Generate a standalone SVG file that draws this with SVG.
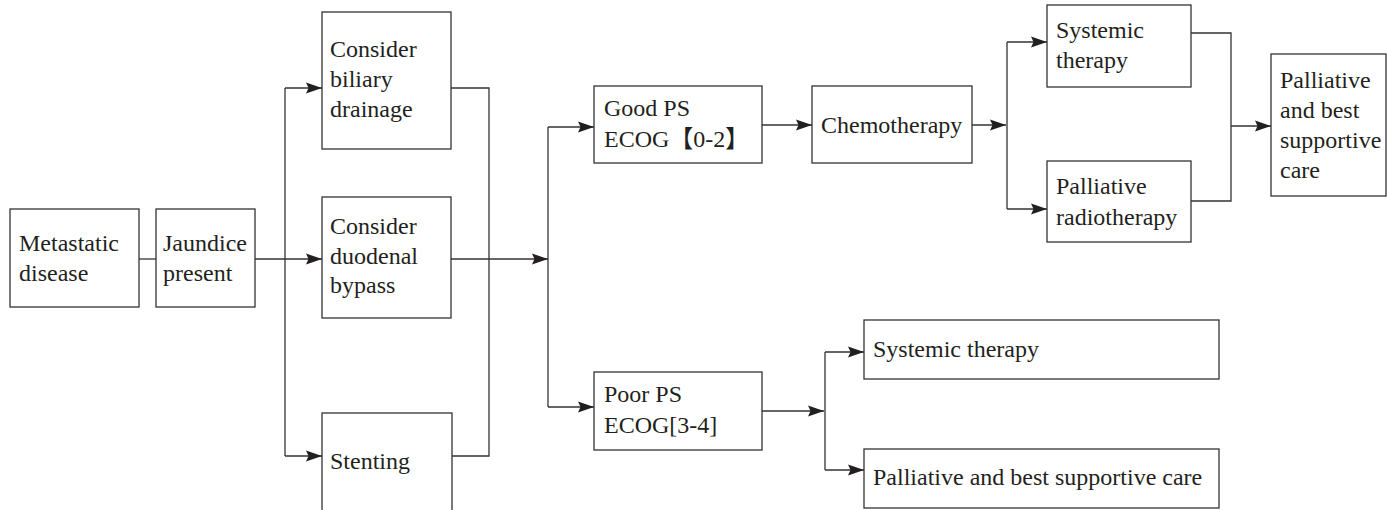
<svg xmlns="http://www.w3.org/2000/svg" width="1387" height="510" viewBox="0 0 1387 510">
<defs>
<marker id="arr" markerWidth="16" markerHeight="12" refX="16" refY="6" orient="auto" markerUnits="userSpaceOnUse" overflow="visible">
<path d="M0,0.5 L16,6 L0,11.5 L2.5,6 Z" fill="#231f20"/>
</marker>
<style>
.box{fill:#fff;stroke:#333;stroke-width:1.3}
.t{font-family:'Liberation Serif','Times New Roman',serif;font-size:24px;fill:#231f20}
.cjk{font-family:'Noto Sans CJK SC',sans-serif}
.c{fill:none;stroke:#333;stroke-width:1.3}
.a{fill:none;stroke:#333;stroke-width:1.3;marker-end:url(#arr)}
</style>
</defs>
<rect width="1387" height="510" fill="#fff"/>
<g id="connectors">
<path class="c" d="M139,259 H156"/>
<path class="a" d="M255,259 H322"/>
<path class="c" d="M285,88 V456"/>
<path class="a" d="M285,88 H322"/>
<path class="a" d="M285,456 H322"/>
<path class="c" d="M451,88 H489 V456 H452"/>
<path class="a" d="M451,259 H548"/>
<path class="c" d="M548,127 V407"/>
<path class="a" d="M548,127 H594"/>
<path class="a" d="M548,407 H594"/>
<path class="a" d="M762,125 H812"/>
<path class="a" d="M972,125 H1006"/>
<path class="c" d="M1007,42 V209"/>
<path class="a" d="M1007,42 H1047"/>
<path class="a" d="M1007,209 H1047"/>
<path class="c" d="M1191,33 H1231 V201 H1191"/>
<path class="a" d="M1231,126 H1271"/>
<path class="a" d="M762,411 H824"/>
<path class="c" d="M825,352 V470"/>
<path class="a" d="M825,352 H864"/>
<path class="a" d="M825,470 H864"/>
</g>
<g id="n-metastatic"><rect class="box" x="10" y="209" width="129" height="98"/><text class="t" x="19" y="251">Metastatic</text><text class="t" x="19" y="281">disease</text></g>
<g id="n-jaundice"><rect class="box" x="156" y="209" width="99" height="98"/><text class="t" x="163" y="251">Jaundice</text><text class="t" x="163" y="281">present</text></g>
<g id="n-biliary"><rect class="box" x="322" y="12" width="129" height="137"/><text class="t" x="330" y="57">Consider</text><text class="t" x="330" y="87">biliary</text><text class="t" x="330" y="117">drainage</text></g>
<g id="n-duodenal"><rect class="box" x="322" y="197" width="129" height="121"/><text class="t" x="330" y="234">Consider</text><text class="t" x="330" y="264">duodenal</text><text class="t" x="330" y="293">bypass</text></g>
<g id="n-stenting"><rect class="box" x="322" y="413" width="130" height="110"/><text class="t" x="330" y="469">Stenting</text></g>
<g id="n-goodps"><rect class="box" x="594" y="86" width="168" height="77"/><text class="t" x="604" y="116">Good PS</text><text class="t" x="604" y="147">ECOG<tspan class="cjk">【</tspan>0-2<tspan class="cjk">】</tspan></text></g>
<g id="n-chemo"><rect class="box" x="812" y="86" width="160" height="77"/><text class="t" x="821" y="133">Chemotherapy</text></g>
<g id="n-systemic1"><rect class="box" x="1047" y="5" width="144" height="82"/><text class="t" x="1056" y="38">Systemic</text><text class="t" x="1056" y="68">therapy</text></g>
<g id="n-radio"><rect class="box" x="1047" y="161" width="144" height="81"/><text class="t" x="1056" y="194">Palliative</text><text class="t" x="1056" y="225">radiotherapy</text></g>
<g id="n-palliative1"><rect class="box" x="1271" y="54" width="115" height="142"/><text class="t" x="1280" y="88">Palliative</text><text class="t" x="1280" y="118">and best</text><text class="t" x="1280" y="148">supportive</text><text class="t" x="1280" y="178">care</text></g>
<g id="n-poorps"><rect class="box" x="594" y="372" width="168" height="78"/><text class="t" x="604" y="402">Poor PS</text><text class="t" x="604" y="433">ECOG[3-4]</text></g>
<g id="n-systemic2"><rect class="box" x="864" y="320" width="355" height="59"/><text class="t" x="873" y="357">Systemic therapy</text></g>
<g id="n-palliative2"><rect class="box" x="864" y="449" width="355" height="59"/><text class="t" x="873" y="485">Palliative and best supportive care</text></g>
</svg>
